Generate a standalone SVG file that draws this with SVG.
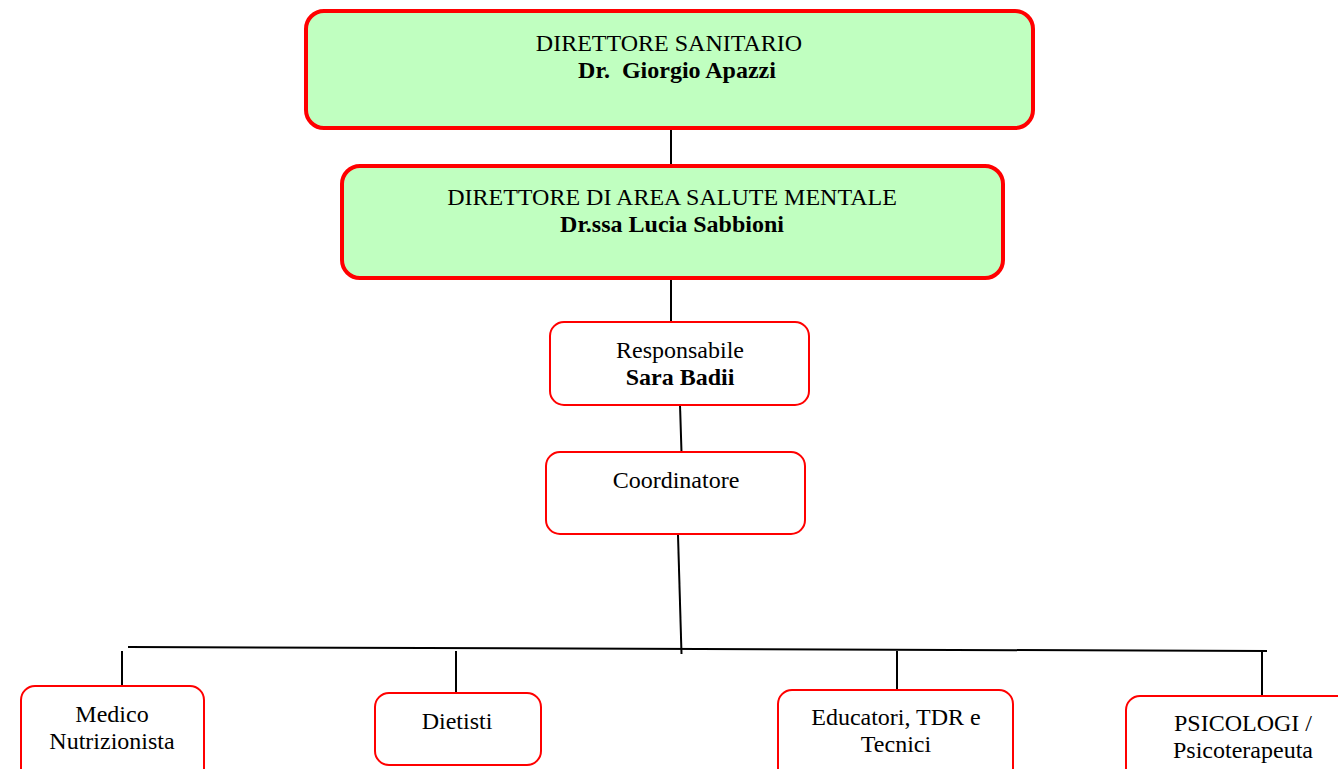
<svg xmlns="http://www.w3.org/2000/svg" width="1338" height="769" viewBox="0 0 1338 769">
<style>
.t{font-family:"Liberation Serif","Times New Roman",serif;font-size:24px;fill:#000;text-anchor:middle;white-space:pre}
.b{font-weight:bold}
.big{fill:#C0FFC0;stroke:#FF0000;stroke-width:4}
.sm{fill:#FFFFFF;stroke:#FF0000;stroke-width:2}
.c{stroke:#000;stroke-width:2;fill:none}
</style>
<rect width="1338" height="769" fill="#fff"/>
<g id="connectors">
<line class="c" x1="671" y1="128" x2="671" y2="165"/>
<line class="c" x1="671" y1="279" x2="671" y2="322"/>
<line class="c" x1="680" y1="405" x2="681.5" y2="452"/>
<line class="c" x1="678" y1="535" x2="681.5" y2="654"/>
<line class="c" x1="128" y1="647" x2="1267" y2="651"/>
<line class="c" x1="122" y1="651" x2="122" y2="686"/>
<line class="c" x1="456" y1="651" x2="456" y2="701"/>
<line class="c" x1="897" y1="651" x2="897" y2="692"/>
<line class="c" x1="1262" y1="651" x2="1262" y2="696"/>
</g>
<g id="direttore-sanitario">
<rect class="big" x="306" y="11" width="727" height="117" rx="18"/>
<text class="t" x="669" y="51">DIRETTORE SANITARIO</text>
<text class="t b" x="677" y="78">Dr.  Giorgio Apazzi</text>
</g>
<g id="direttore-area">
<rect class="big" x="342" y="166" width="661" height="112" rx="18"/>
<text class="t" x="672" y="205">DIRETTORE DI AREA SALUTE MENTALE</text>
<text class="t b" x="672" y="232">Dr.ssa Lucia Sabbioni</text>
</g>
<g id="responsabile">
<rect class="sm" x="550" y="322" width="259" height="83" rx="14"/>
<text class="t" x="680" y="358">Responsabile</text>
<text class="t b" x="680" y="385">Sara Badii</text>
</g>
<g id="coordinatore">
<rect class="sm" x="546" y="452" width="259" height="82" rx="14"/>
<text class="t" x="676" y="488">Coordinatore</text>
</g>
<g id="medico">
<rect class="sm" x="21" y="686" width="183" height="100" rx="14"/>
<text class="t" x="112" y="722">Medico</text>
<text class="t" x="112" y="749">Nutrizionista</text>
</g>
<g id="dietisti">
<rect class="sm" x="375" y="693" width="166" height="72" rx="14"/>
<text class="t" x="457" y="729">Dietisti</text>
</g>
<g id="educatori">
<rect class="sm" x="778" y="690" width="235" height="100" rx="14"/>
<text class="t" x="896" y="725">Educatori, TDR e</text>
<text class="t" x="896" y="752">Tecnici</text>
</g>
<g id="psicologi">
<rect class="sm" x="1126" y="696" width="230" height="100" rx="14"/>
<text class="t" x="1243" y="731">PSICOLOGI /</text>
<text class="t" x="1243" y="758">Psicoterapeuta</text>
</g>
</svg>
